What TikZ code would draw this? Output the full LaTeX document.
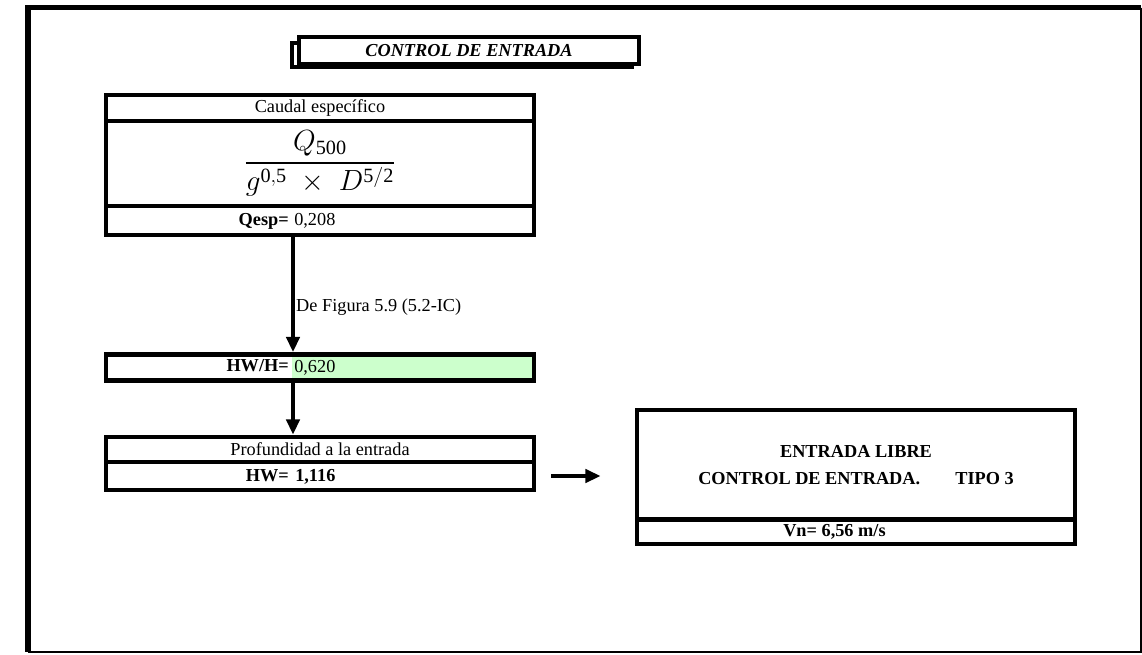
\documentclass[tikz,border=0pt]{standalone}
\usepackage{fontspec}
\setmainfont{Liberation Serif}
\usepackage{amsmath}
\usepackage{graphicx}
\usepackage{tikz}
\usetikzlibrary{arrows.meta,calc,positioning}

\definecolor{verdeHW}{HTML}{CCFFCC}
\def\pix{0.025cm}
\tikzset{
  every node/.style={font=\fontsize{13pt}{15pt}\selectfont},
  negrita/.style={font=\fontsize{13pt}{15pt}\selectfont\bfseries},
  celda/.style={draw, line width=3.4pt, minimum width=428*\pix, inner sep=0pt},
  etiqueta/.style={inner sep=0pt, text height=1.5ex, text depth=.25ex},
  flecha/.style={line width=2.6pt, -{Triangle[length=0.38cm, width=0.33cm]}},
}

\begin{document}
\begin{tikzpicture}[x=0.025cm, y=-0.025cm]
  \useasboundingbox (0,0) rectangle (1142,654);
  \draw[line width=3.6pt] (28,651.5) -- (28,7.5) -- (1141,7.5);
  \draw[line width=1.4pt] (1141,7.5) -- (1141,651.5) -- (28,651.5);

  % titulo
  \draw[line width=2.5pt] (292,43) rectangle (632,67);
  \node[draw, fill=white, line width=2.5pt, minimum width=340*\pix, minimum height=27*\pix]
    (titulo) at (469,50.5) {\textbf{\textit{CONTROL DE ENTRADA}}};

  % caudal especifico
  \node[celda, minimum height=26*\pix] (caudal) at (320,108) {Caudal específico};
  \node[celda, minimum height=85*\pix] (formula) at (320,163.5)
    {\huge$\dfrac{Q_{\mathrm{500}}}{g^{\mathrm{0{,}5}}\;\times\;D^{\mathrm{5/2}}}$\hspace{6pt}};
  \node[celda, minimum height=29*\pix] (qesp) at (320,220.5) {};
  \node[etiqueta, negrita, anchor=east] (qesplab) at (289,221) {Qesp=};
  \node[etiqueta, anchor=west] (qespval) at (294,221) {0,208};

  % HW/H
  \node[anchor=west, fill=verdeHW, inner xsep=0.05cm, text width=5.95cm, align=left,
    minimum height=26*\pix] (hwval) at (292,367.5) {0,620};
  \node[celda, minimum height=26*\pix] (hwh) at (320,367.5) {};
  \node[etiqueta, negrita, anchor=east] (hwhlab) at (289,367.5) {HW/H=};

  % profundidad
  \node[celda, minimum height=25*\pix] (prof) at (320,449.5) {Profundidad a la entrada};
  \node[celda, minimum height=28*\pix] (hw) at (320,476) {};
  \node[etiqueta, negrita, anchor=east] (hwlab) at (289,477) {HW=};
  \node[etiqueta, negrita, anchor=west] (hwnum) at (295,477) {1,116};

  % salida
  \node[celda, minimum width=438*\pix, minimum height=109.5*\pix, align=center,
    font=\fontsize{13pt}{19pt}\selectfont\bfseries] (salida) at (856,464.75)
    {ENTRADA LIBRE\\CONTROL DE ENTRADA.\hspace{25pt}TIPO 3};
  \node[celda, minimum width=438*\pix, minimum height=24.5*\pix] (vn) at (856,531.75) {};
  \node[etiqueta, negrita, anchor=west] (vnlab) at (783,532) {Vn=\ 6,56 m/s};

  \coordinate (eje) at (293,0);
  \draw[flecha] (qesp.south -| eje) -- node[right, pos=0.61, inner sep=1pt] (fuente) {De Figura 5.9 (5.2-IC)} (hwh.north -| eje);
  \draw[flecha] (hwh.south -| eje) -- (prof.north -| eje);
  \draw[flecha, shorten <=0.375cm, shorten >=0.85cm] (hw.east) -- (hw.east -| salida.west);
\end{tikzpicture}
\end{document}
